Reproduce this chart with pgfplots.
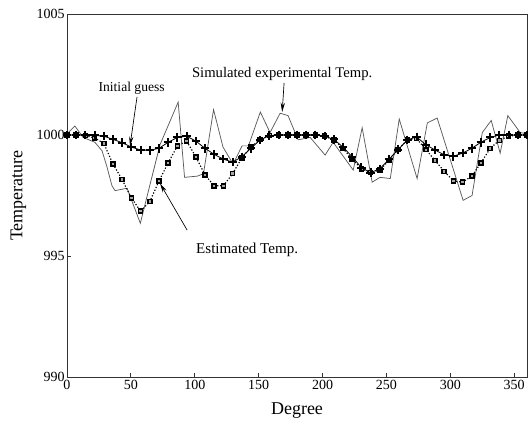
\documentclass[border=0pt]{standalone}
\usepackage{pgfplots}
\pgfplotsset{compat=1.18}
\usepackage{fontspec}
\setmainfont{Liberation Serif}
\usetikzlibrary{arrows.meta}

\begin{document}
\begin{tikzpicture}
\useasboundingbox (-50.25pt,-34.5pt) rectangle (345.75pt,282.75pt);
\begin{axis}[
  scale only axis, width=345pt, height=272.25pt,
  xmin=0, xmax=360, ymin=990, ymax=1005,
  xtick={0,50,...,350}, ytick={990,995,1000,1005},
  tick align=inside, xtick pos=left, ytick pos=left, major tick length=3pt,
  axis line style={black!80, line width=0.6pt},
  every tick/.style={black!80, line width=0.6pt},
  /pgf/number format/assume math mode=true,
  /pgf/number format/1000 sep={},
  ticklabel style={font=\fontsize{10.5}{12}\selectfont},
  yticklabel style={inner sep=1.5pt},
  xticklabel style={inner sep=2pt},
  xlabel={Degree}, ylabel={Temperature},
  xlabel style={at={(axis description cs:0.5,-0.0935)}, anchor=center, font=\fontsize{13.5}{15}\selectfont},
  ylabel style={at={(axis description cs:-0.1055,0.5)}, anchor=center, font=\fontsize{13.5}{15}\selectfont},
  clip=false,
]
% Simulated experimental temperature
\addplot[black!65, line width=0.55pt, mark=none] coordinates {
(0,1000.05)(6.2,1000.37)(12.6,999.9)(21.8,999.7)(27.4,999.35)(31.2,998.7)(35.2,997.9)(37.6,997.7)(47,997.8)(49.5,997.45)(57.4,996.35)(72.8,999.6)(87,1001.36)(92,998.25)(102,998.3)(106.8,998.4)(114.7,1001.05)(122.1,999.5)(130,998.8)(137,999.55)(142,999.55)(151.3,1000.95)(158.9,1000.1)(166.8,1000.9)(173,1000.8)(180.9,999.8)(190.3,999.9)(202,999.17)(208.3,999.7)(224,998.55)(231,1000.3)(238.8,998.05)(245,998.25)(253,998.2)(260,1000.66)(274,998.2)(282,1000.5)(289.7,1000.7)(310,997.3)(317,997.5)(325,1000.1)(332,1000.6)(339,999.25)(345,1000.8)(354.7,1000.1)(360,1000.05)
};
% Estimated temperature
\addplot[black, line width=0.9pt, dash pattern=on 0.9pt off 1.4pt, mark=square*, mark size=1.5pt,
  mark options={solid, fill=black!35, draw=black, line width=1.1pt}] coordinates {
(0,1000)(7.2,1000)(14.4,999.97)(21.6,999.88)(28.8,999.65)(36,998.8)(43.2,998.15)(50.4,997.4)(57.6,996.85)(64.8,997.25)(72,998.1)(79.2,998.85)(86.4,999.55)(93.6,999.75)(100.8,999.1)(108,998.35)(115.2,997.9)(122.4,997.9)(129.6,998.4)(136.8,999.05)(144,999.5)(151.2,999.82)(158.4,999.97)(165.6,1000)(172.8,1000)(180,1000)(187.2,1000)(194.4,1000)(201.6,999.95)(208.8,999.8)(216,999.45)(223.2,999.0)(230.4,998.6)(237.6,998.45)(244.8,998.55)(252,998.95)(259.2,999.4)(266.4,999.8)(273.6,999.85)(280.8,999.4)(288,998.95)(295.2,998.5)(302.4,998.1)(309.6,998.05)(316.8,998.3)(324,998.85)(331.2,999.45)(338.4,999.78)(345.6,999.95)(352.8,1000)(360,1000)
};
% Initial guess
\addplot[black, line width=0.6pt, mark=+, mark size=3.2pt, mark options={line width=1.5pt}] coordinates {
(0,1000)(7.2,1000)(14.4,1000)(21.6,999.98)(28.8,999.95)(36,999.82)(43.2,999.68)(50.4,999.5)(57.6,999.38)(64.8,999.37)(72,999.45)(79.2,999.7)(86.4,999.9)(93.6,999.95)(100.8,999.75)(108,999.45)(115.2,999.2)(122.4,999.0)(129.6,998.88)(136.8,999.1)(144,999.45)(151.2,999.8)(158.4,999.97)(165.6,1000)(172.8,1000)(180,1000)(187.2,1000)(194.4,1000)(201.6,999.95)(208.8,999.82)(216,999.5)(223.2,999.1)(230.4,998.65)(237.6,998.45)(244.8,998.6)(252,999.0)(259.2,999.4)(266.4,999.8)(273.6,999.92)(280.8,999.6)(288,999.38)(295.2,999.18)(302.4,999.12)(309.6,999.25)(316.8,999.45)(324,999.7)(331.2,999.9)(338.4,1000)(345.6,1000)(352.8,1000)(360,1000)
};
% Annotations
\node[font=\fontsize{10.2}{12}\selectfont] at (axis cs:50.6,1001.94) {Initial guess};
\draw[-{Stealth[length=7pt,width=3.2pt]}, line width=0.5pt] (axis cs:54.8,1001.57) -- (axis cs:49.3,999.55);
\node[font=\fontsize{11}{13}\selectfont] at (axis cs:168.4,1002.52) {Simulated experimental Temp.};
\draw[-{Stealth[length=7pt,width=3.2pt]}, line width=0.5pt] (axis cs:169.9,1002.15) -- (axis cs:168.4,1000.95);
\node[font=\fontsize{11.3}{13}\selectfont] at (axis cs:141,995.25) {Estimated Temp.};
\draw[-{Stealth[length=7pt,width=3.2pt]}, line width=0.5pt] (axis cs:94,996.07) -- (axis cs:72.8,998.0);
\end{axis}
\end{tikzpicture}
\end{document}
